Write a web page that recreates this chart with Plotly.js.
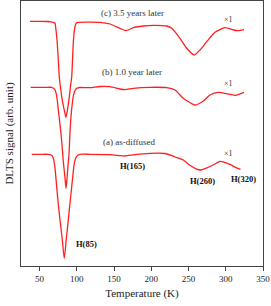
<!DOCTYPE html>
<html>
<head>
<meta charset="utf-8">
<script src="https://cdn.plot.ly/plotly-3.0.1.min.js"></script>
<style>html,body{margin:0;padding:0;background:#fff}#chart{width:271px;height:306px}</style>
</head>
<body>
<div id="chart"></div>
<script>
// Temperature (K) and DLTS signal (arb. unit, relative to each curve's baseline)
const tempA = [39.4, 50.5, 61.3, 63.9, 66.2, 68.4, 70.7, 72.9, 75.1, 77.4, 80.4, 83.1, 85.8, 88.5, 93.1, 96.6, 98.9, 101.9, 104.1, 117.7, 144.5, 157.9, 164.7, 178.1, 198.2, 218.4, 227.4, 231.8, 242.9, 251.9, 260.0, 266.7, 273.0, 283.2, 292.2, 305.6, 313.0, 319.8];
const sigA  = [0, 0, 0, -0.3, -1, -4, -14, -32.4, -50, -65.7, -85, -104, -85, -65.7, -32.4, -9, -3, -0.7, 0, 0, -0.3, -1.3, -1.7, -0.3, 1.0, 0.8, -1.4, -2.7, -5.7, -11, -14.5, -15.7, -14, -10.7, -7, -10, -13, -15];

const tempB = [38.0, 50.5, 61.3, 66.2, 68.6, 70.7, 72.4, 73.7, 75.1, 76.7, 78.3, 80.1, 81.4, 82.7, 84.1, 85.4, 86.8, 88.1, 89.5, 90.8, 92.1, 93.5, 94.8, 96.2, 97.5, 99.5, 101.5, 104.1, 117.7, 131.1, 144.5, 157.9, 164.7, 175.8, 198.2, 220.7, 231.8, 242.9, 250.6, 258.7, 269.8, 278.8, 289.9, 301.2, 312.4, 324.5];
const sigB  = [0, 0, 0, 0, -1, -2.7, -6.7, -12.7, -22.7, -32.7, -43.7, -57.7, -70.7, -80.7, -90.7, -101, -90.7, -78.7, -66, -44.7, -29.7, -18.7, -10.7, -5.7, -3.2, -1.2, -0.5, -0.2, -0.3, 0.8, 0.6, -1.7, -2.4, -1.0, 0, -0.4, -2.7, -11, -14.7, -17.7, -13.7, -7.7, -5, -6.4, -8, -5];

const tempC = [37.1, 50.5, 61.3, 65.3, 68.0, 69.7, 70.7, 72.0, 73.7, 75.1, 76.4, 78.0, 79.7, 81.4, 83.4, 85.4, 87.4, 89.9, 91.5, 93.1, 94.2, 95.2, 96.6, 97.9, 99.5, 101.5, 117.7, 131.1, 144.5, 157.9, 166.0, 175.8, 189.2, 202.7, 220.7, 227.4, 238.5, 247.5, 257.7, 265.4, 274.4, 285.5, 298.9, 310.1, 316.8, 324.5];
const sigC  = [0, 0, -0.2, -0.5, -1, -1.5, -2, -8.7, -22, -38.7, -55.4, -65.7, -75.4, -82.7, -89.7, -96, -88.7, -75.4, -64.7, -55.4, -38.7, -22, -9.7, -4.2, -1.7, -1, -0.8, -1.0, -2.7, -7, -9.4, -6.4, -4.7, -4.0, -4.7, -7, -17, -27, -33.7, -28.7, -20.4, -11, -6.4, -8.7, -9.4, -8.4];

// vertical offsets used to stack the three spectra
const offsetA = 0, offsetB = 67, offsetC = 133;

const curveLabels = ['(a) as-diffused', '(b) 1.0 year later', '(c) 3.5 years later'];
const scaleLabel = '×1';
const peakLabels = ['H(85)', 'H(165)', 'H(260)', 'H(320)'];
const xTicks = [50, 100, 150, 200, 250, 300, 350];

const lineStyle = {color: '#ff1f1f', width: 1.3, shape: 'spline', smoothing: 0.6};
const mk = (t, s, off) => ({
  x: t, y: s.map(v => v + off), type: 'scatter', mode: 'lines',
  line: lineStyle, hoverinfo: 'skip', showlegend: false
});

const serif = '"Liberation Serif", "Times New Roman", serif';
const ann = (x, y, text, size, bold) => ({
  x: x, y: y, xref: 'x', yref: 'y', text: bold ? '<b>' + text + '</b>' : text,
  showarrow: false, xanchor: 'center', yanchor: 'middle',
  font: {family: serif, size: size, color: bold ? '#111' : '#333'}
});

const data = [mk(tempA, sigA, offsetA), mk(tempB, sigB, offsetB), mk(tempC, sigC, offsetC)];

const layout = {
  width: 271, height: 306,
  margin: {l: 21, r: 8, t: 1, b: 40},
  paper_bgcolor: '#fff', plot_bgcolor: '#fff',
  font: {family: serif, color: '#222'},
  xaxis: {
    range: [25, 350], tickvals: xTicks, ticktext: xTicks.map(String),
    ticks: 'outside', ticklen: 4, tickwidth: 1, tickcolor: '#444',
    showline: true, mirror: true, linecolor: '#444', linewidth: 1,
    showgrid: false, zeroline: false,
    tickfont: {family: serif, size: 9, color: '#222'},
    title: {text: 'Temperature (K)', font: {family: serif, size: 11, color: '#222'}, standoff: 6}
  },
  yaxis: {
    range: [-111.7, 153.3], showticklabels: false, ticks: '',
    showline: true, mirror: true, linecolor: '#444', linewidth: 1,
    showgrid: false, zeroline: false,
    title: {text: 'DLTS signal (arb. unit)', font: {family: serif, size: 11, color: '#222'}, standoff: 4}
  },
  annotations: [
    ann(175.4, 141.6, curveLabels[2], 9, false),
    ann(174.7, 82.6, curveLabels[1], 9, false),
    ann(170.7, 12, curveLabels[0], 9, false),
    ann(303, 135, scaleLabel, 8, false),
    ann(303, 71, scaleLabel, 8, false),
    ann(303, 1, scaleLabel, 8, false),
    ann(112.7, -90, peakLabels[0], 8.5, true),
    ann(174.1, -11.4, peakLabels[1], 8.5, true),
    ann(268.7, -26.4, peakLabels[2], 8.5, true),
    ann(323.5, -24.7, peakLabels[3], 8.5, true)
  ]
};

Plotly.newPlot('chart', data, layout, {displayModeBar: false, staticPlot: true});
</script>
</body>
</html>
